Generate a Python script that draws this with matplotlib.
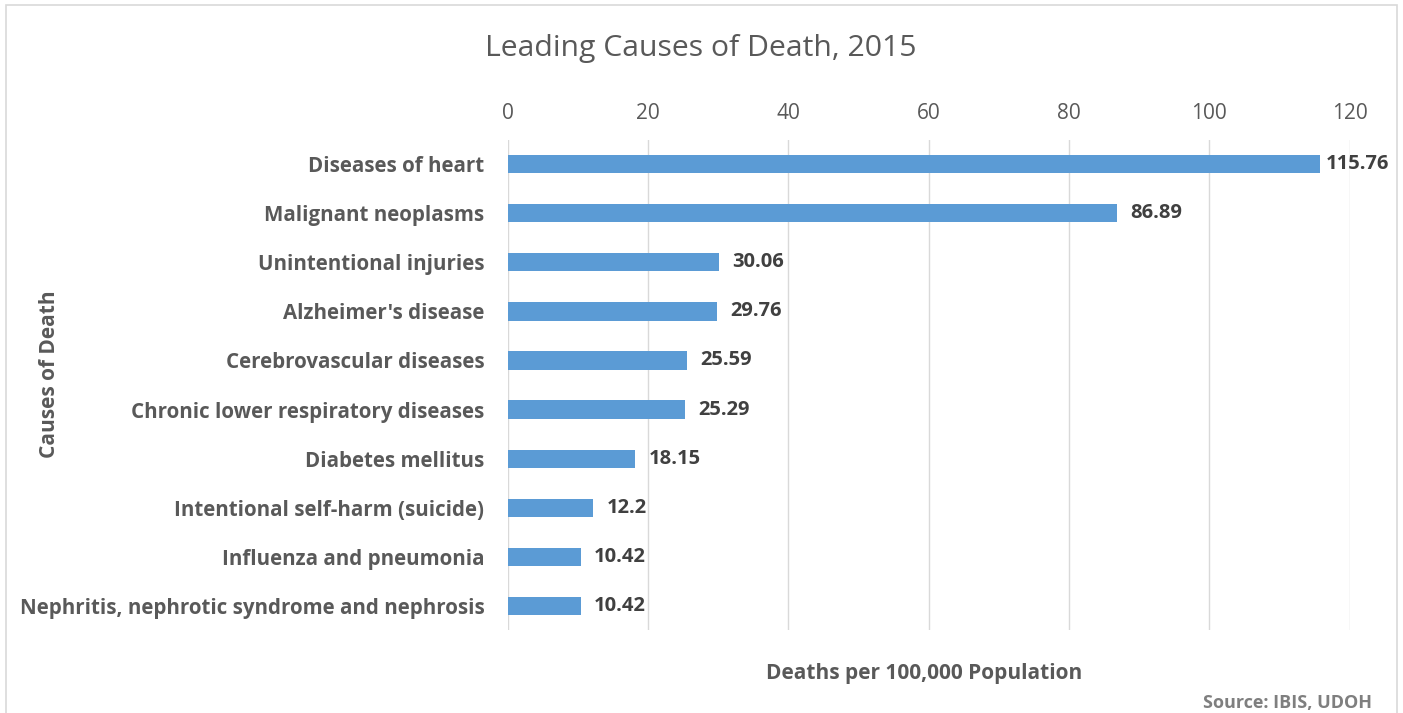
import matplotlib.pyplot as plt
from matplotlib.patches import Rectangle

causes = ["Diseases of heart", "Malignant neoplasms", "Unintentional injuries",
          "Alzheimer's disease", "Cerebrovascular diseases",
          "Chronic lower respiratory diseases", "Diabetes mellitus",
          "Intentional self-harm (suicide)", "Influenza and pneumonia",
          "Nephritis, nephrotic syndrome and nephrosis"]
rates = [115.76, 86.89, 30.06, 29.76, 25.59, 25.29, 18.15, 12.2, 10.42, 10.42]
ticks = [0, 20, 40, 60, 80, 100, 120]

plt.rcParams['font.family'] = ['Open Sans', 'DejaVu Sans']
grey = '#595959'

fig = plt.figure(figsize=(14.03, 7.13), dpi=100)
ax = fig.add_axes([0.362, 0.116, 0.600, 0.688])

ypos = list(range(len(causes)))
ax.barh(ypos, rates, height=0.37, color='#5B9BD5', zorder=3)
labels = []
for y, v in zip(ypos, rates):
    t = ax.annotate(f"{v:g}", (v, y), xytext=(9.5, 0), textcoords='offset points',
                    va='center', ha='left', fontsize=14.5,
                    fontweight='bold', color='#404040')
    labels.append(t)

ax.set_xlim(0, 120)
ax.set_ylim(len(causes) - 0.5, -0.5)
ax.set_xticks(ticks)
ax.xaxis.tick_top()
ax.tick_params(axis='x', length=0, pad=11, labelsize=15, labelcolor=grey)
ax.set_yticks(ypos)
ax.set_yticklabels(causes, fontsize=14.8, fontweight='bold', color=grey)
ax.tick_params(axis='y', length=0, pad=17)
ax.grid(axis='x', color='#D9D9D9', linewidth=1, zorder=0)
for s in ax.spines.values():
    s.set_visible(False)

# keep value labels inside the chart area, as the original does
fig.canvas.draw()
limit = 0.99 * fig.bbox.width
for t in labels:
    over = t.get_window_extent().x1 - limit
    if over > 0:
        dx, dy = t.xyann
        t.xyann = (dx - over * 72 / fig.dpi, dy)

fig.text(0.4995, 0.932, "Leading Causes of Death, 2015", ha='center', va='center',
         fontsize=21.7, color=grey)
fig.text(0.035, 0.475, "Causes of Death", rotation=90, ha='center', va='center',
         fontsize=15, fontweight='bold', color=grey)
fig.text(0.659, 0.056, "Deaths per 100,000 Population", ha='center', va='center',
         fontsize=15, fontweight='bold', color=grey)
fig.text(0.978, 0.014, "Source: IBIS, UDOH", ha='right', va='center',
         fontsize=13, fontweight='bold', color='#7F7F7F')

fig.patches.append(Rectangle((0.004, -0.01), 0.992, 1.003, transform=fig.transFigure,
                             fill=False, edgecolor='#D9D9D9', linewidth=1.2))

fig.savefig('out.png', dpi=100)
